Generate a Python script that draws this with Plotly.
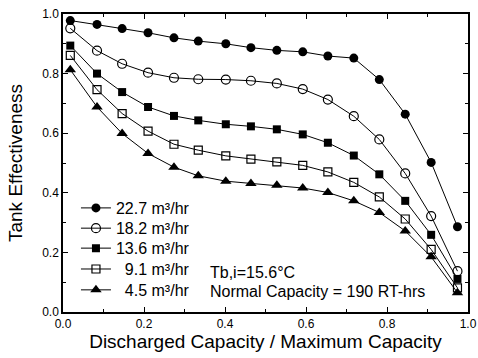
import plotly.graph_objects as go

x = [0.018, 0.084, 0.146, 0.210, 0.274, 0.334, 0.402, 0.464, 0.528, 0.592,
     0.654, 0.718, 0.781, 0.845, 0.909, 0.974]

y_227 = [0.978, 0.965, 0.951, 0.937, 0.920, 0.909, 0.900, 0.887, 0.878, 0.873,
         0.859, 0.852, 0.780, 0.664, 0.502, 0.286]
y_182 = [0.952, 0.877, 0.833, 0.803, 0.786, 0.781, 0.780, 0.776, 0.767, 0.748,
         0.713, 0.657, 0.579, 0.465, 0.322, 0.137]
y_136 = [0.894, 0.800, 0.738, 0.688, 0.658, 0.643, 0.630, 0.623, 0.613, 0.596,
         0.568, 0.525, 0.462, 0.373, 0.259, 0.111]
y_91 = [0.861, 0.746, 0.666, 0.607, 0.563, 0.543, 0.524, 0.513, 0.504, 0.492,
        0.470, 0.435, 0.386, 0.312, 0.210, 0.081]
y_45 = [0.813, 0.688, 0.599, 0.532, 0.486, 0.457, 0.439, 0.431, 0.425, 0.416,
        0.401, 0.373, 0.334, 0.272, 0.185, 0.065]

series_names = ["22.7 m³/hr", "18.2 m³/hr", "13.6 m³/hr",
                "\u20079.1 m³/hr", "\u20074.5 m³/hr"]
series_values = [y_227, y_182, y_136, y_91, y_45]
markers = [
    dict(symbol="circle", size=9, color="black"),
    dict(symbol="circle-open", size=9, color="black", line=dict(width=1.2)),
    dict(symbol="square", size=8, color="black"),
    dict(symbol="square-open", size=8, color="black", line=dict(width=1.2)),
    dict(symbol="triangle-up", size=10, color="black"),
]
legend_ids = ["legend", "legend2", "legend3", "legend4", "legend5"]
legend_y = [0.349, 0.281, 0.214, 0.144, 0.074]

font_family = "Liberation Sans, Arial, sans-serif"

fig = go.Figure()
for name, ys, mk, lid in zip(series_names, series_values, markers, legend_ids):
    fig.add_trace(go.Scatter(x=x, y=ys, mode="lines+markers", name=name, legend=lid,
                             line=dict(color="black", width=1), marker=mk))

axis_common = dict(
    showline=True, linecolor="black", linewidth=1.5, mirror="ticks",
    ticks="inside", ticklen=5, tickwidth=1, tickcolor="black",
    showgrid=False, zeroline=False, dtick=0.2, tickformat=".1f",
    tickfont=dict(size=12, color="black", family=font_family),
    minor=dict(ticks="inside", ticklen=3, dtick=0.1, tickcolor="black", showgrid=False),
    automargin=False, ticklabeloverflow="allow",
)
fig.update_xaxes(range=[0, 1.0], title=dict(text="Discharged Capacity / Maximum Capacity",
                 font=dict(size=19, color="black", family=font_family), standoff=2), **axis_common)
fig.update_yaxes(range=[0, 1.0], title=dict(text="Tank Effectiveness",
                 font=dict(size=19, color="black", family=font_family), standoff=15), **axis_common)

fig.add_annotation(x=0.358, y=0.131, xref="x", yref="y", text="Tb,i=15.6°C",
                   showarrow=False, xanchor="left", yanchor="middle",
                   font=dict(size=16, color="black", family=font_family))
fig.add_annotation(x=0.358, y=0.068, xref="x", yref="y", text="Normal Capacity = 190 RT-hrs",
                   showarrow=False, xanchor="left", yanchor="middle",
                   font=dict(size=16, color="black", family=font_family))

legend_layout = {}
for lid, ly in zip(legend_ids, legend_y):
    legend_layout[lid] = dict(x=0.032, y=ly, xanchor="left", yanchor="middle",
                              bgcolor="rgba(0,0,0,0)", borderwidth=0,
                              font=dict(size=16, color="black", family=font_family),
                              itemwidth=30)

fig.update_layout(
    width=478, height=358,
    margin=dict(l=63, r=10, t=13.5, b=46),
    paper_bgcolor="white", plot_bgcolor="white",
    font=dict(family=font_family, color="black"),
    showlegend=True,
    **legend_layout,
)

fig.write_html("out.html",
               config={"displayModeBar": False},
               post_script="document.body.style.margin='0';document.body.style.overflow='hidden';")
